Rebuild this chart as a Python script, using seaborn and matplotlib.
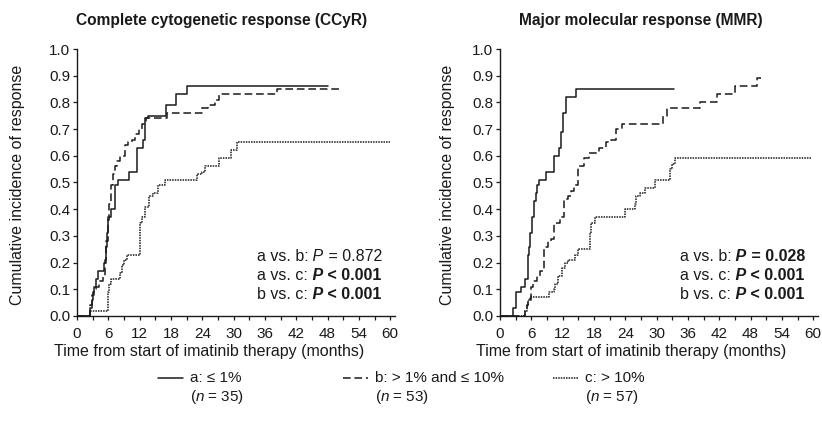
import numpy as np
import pandas as pd
import matplotlib
matplotlib.use('Agg')
import matplotlib.pyplot as plt
from matplotlib.lines import Line2D
from matplotlib.ticker import MultipleLocator
import seaborn as sns

# --- values (months, cumulative incidence) ---
# CCyR panel
ccyr_a_t = [0, 2.5, 2.8, 3.0, 3.3, 3.6, 4.0, 5.2, 5.5, 5.8, 6.0, 6.6, 7.3, 7.9, 10.0, 11.4, 12.6, 13.1, 13.6, 17.0, 19.0, 21.0, 48.0]
ccyr_a_v = [0, 0.03, 0.06, 0.09, 0.11, 0.14, 0.17, 0.20, 0.26, 0.31, 0.37, 0.40, 0.49, 0.51, 0.54, 0.63, 0.66, 0.74, 0.75, 0.79, 0.83, 0.86, 0.86]

ccyr_b_t = [0, 2.5, 2.8, 3.2, 3.6, 4.2, 5.0, 5.3, 5.6, 5.9, 6.2, 6.5, 6.8, 7.2, 7.6, 8.2, 9.2, 9.8, 10.5, 11.1, 11.8, 12.4, 13.2, 17.2, 24.0, 25.0, 26.5, 27.2, 38.3, 50.7]
ccyr_b_v = [0, 0.04, 0.08, 0.10, 0.11, 0.13, 0.15, 0.21, 0.28, 0.36, 0.42, 0.49, 0.53, 0.56, 0.58, 0.60, 0.64, 0.65, 0.66, 0.68, 0.70, 0.72, 0.74, 0.76, 0.78, 0.79, 0.81, 0.83, 0.85, 0.85]

ccyr_c_t = [0, 2.5, 5.9, 6.2, 6.6, 8.2, 8.6, 9.0, 9.6, 12.0, 12.5, 13.1, 13.8, 14.6, 15.5, 16.8, 23.0, 24.0, 24.6, 27.2, 29.4, 30.6, 60.0]
ccyr_c_v = [0, 0.02, 0.09, 0.12, 0.14, 0.16, 0.19, 0.21, 0.23, 0.35, 0.37, 0.41, 0.45, 0.46, 0.49, 0.51, 0.53, 0.54, 0.56, 0.59, 0.62, 0.65, 0.65]

# MMR panel
mmr_a_t = [0, 2.5, 3.0, 4.1, 4.8, 5.4, 5.6, 5.8, 6.1, 6.5, 6.8, 7.0, 7.5, 8.8, 10.3, 11.3, 11.7, 12.0, 12.7, 14.6, 33.3]
mmr_a_v = [0, 0.03, 0.09, 0.11, 0.14, 0.23, 0.26, 0.31, 0.37, 0.43, 0.46, 0.49, 0.51, 0.54, 0.60, 0.63, 0.69, 0.76, 0.82, 0.85, 0.85]

mmr_b_t = [0, 4.8, 5.1, 5.4, 5.9, 6.4, 7.1, 7.6, 8.5, 9.2, 9.8, 10.4, 11.4, 12.3, 13.0, 13.6, 14.2, 15.0, 16.0, 17.1, 19.0, 20.3, 21.2, 22.2, 23.4, 31.3, 32.0, 38.4, 41.6, 45.1, 49.3, 50.0]
mmr_b_v = [0, 0.02, 0.04, 0.06, 0.11, 0.13, 0.15, 0.17, 0.26, 0.28, 0.29, 0.35, 0.37, 0.44, 0.45, 0.47, 0.49, 0.56, 0.59, 0.61, 0.63, 0.65, 0.66, 0.70, 0.72, 0.75, 0.78, 0.80, 0.83, 0.86, 0.89, 0.89]

mmr_c_t = [0, 4.8, 5.1, 5.4, 5.7, 9.4, 10.3, 10.6, 11.2, 11.8, 12.4, 13.0, 14.3, 15.0, 17.2, 17.4, 18.2, 23.9, 25.8, 26.1, 26.9, 27.7, 29.6, 32.5, 33.0, 33.6, 59.8]
mmr_c_v = [0, 0.02, 0.04, 0.06, 0.07, 0.09, 0.10, 0.12, 0.15, 0.18, 0.20, 0.21, 0.23, 0.25, 0.31, 0.35, 0.37, 0.40, 0.42, 0.45, 0.46, 0.48, 0.51, 0.55, 0.57, 0.59, 0.59]

panel_titles = ['Complete cytogenetic response (CCyR)', 'Major molecular response (MMR)']
group_labels = ['a: \u2264 1%', 'b: > 1% and \u2264 10%', 'c: > 10%']
group_n = [35, 53, 57]
x_ticks = list(range(0, 61, 6))

# p-value lines: (comparison, P sign/value, bold?)
ccyr_pvals = [('a vs. b:', '= 0.872', False), ('a vs. c:', '< 0.001', True), ('b vs. c:', '< 0.001', True)]
mmr_pvals = [('a vs. b:', '= 0.028', True), ('a vs. c:', '< 0.001', True), ('b vs. c:', '< 0.001', True)]

INK = '#1a1a1a'
LINESTYLES = ['-', (0, (5, 2.5)), (0, (1, 0.7))]
TXT = 11.5

sns.set_style('ticks')
plt.rcParams['font.family'] = ['Liberation Sans', 'DejaVu Sans']
plt.rcParams['mathtext.fontset'] = 'custom'
plt.rcParams['mathtext.rm'] = 'Liberation Sans'
plt.rcParams['mathtext.it'] = 'Liberation Sans:italic'
plt.rcParams['text.color'] = INK


def put_pvalue(ax, x, y, label, value, bold, size=TXT):
	# chain pieces from right to left so the line ends at x
	w = 'bold' if bold else 'normal'
	last = ax.text(x, y, ' ' + value, transform=ax.transAxes, ha='right', va='center',
		fontsize=size, fontweight=w, color=INK)
	mid = ax.annotate(' P', xy=(0, 0.5), xycoords=last, ha='right', va='center',
		fontsize=size, fontweight=w, fontstyle='italic', color=INK)
	ax.annotate(label, xy=(0, 0.5), xycoords=mid, ha='right', va='center',
		fontsize=size, color=INK)


def draw_panel(ax, series, pvals):
	for (t, v), ls in zip(series, LINESTYLES):
		df = pd.DataFrame({'t': t, 'v': v})
		sns.lineplot(data=df, x='t', y='v', estimator=None, sort=False, drawstyle='steps-post',
			color=INK, linewidth=1.1, linestyle=ls, ax=ax)
	ax.set_xlim(0, 61)
	ax.set_ylim(0, 1.0)
	ax.set_xticks(x_ticks)
	ax.xaxis.set_minor_locator(MultipleLocator(3))
	ax.yaxis.set_major_locator(MultipleLocator(0.1))
	ax.yaxis.set_major_formatter(matplotlib.ticker.FormatStrFormatter('%.1f'))
	ax.set_xlabel('')
	ax.set_ylabel('')
	sns.despine(ax=ax)
	for s in ['left', 'bottom']:
		ax.spines[s].set_linewidth(1.0)
		ax.spines[s].set_color(INK)
	ax.tick_params(axis='both', which='both', direction='out', length=3, width=0.9, color=INK,
		labelsize=11, labelcolor=INK)
	ax.tick_params(axis='x', pad=5)
	ax.tick_params(axis='y', pad=2)
	for i, (lab, val, bold) in enumerate(pvals):
		put_pvalue(ax, 0.957, 0.221 - i * 0.071, lab, val, bold)


fig = plt.figure(figsize=(8.22, 4.28), dpi=100)
ax1 = fig.add_axes([0.0937, 0.2617, 0.3874, 0.6238])
ax2 = fig.add_axes([0.6083, 0.2617, 0.3874, 0.6238])

draw_panel(ax1, [(ccyr_a_t, ccyr_a_v), (ccyr_b_t, ccyr_b_v), (ccyr_c_t, ccyr_c_v)], ccyr_pvals)
draw_panel(ax2, [(mmr_a_t, mmr_a_v), (mmr_b_t, mmr_b_v), (mmr_c_t, mmr_c_v)], mmr_pvals)

# titles and axis labels
for cx, title in zip([0.270, 0.779], panel_titles):
	fig.text(cx, 0.953, title, ha='center', va='center', fontsize=11.2, fontweight='bold')
for lx in [0.0207, 0.545]:
	fig.text(lx, 0.568, 'Cumulative incidence of response', rotation=90, ha='center', va='center', fontsize=TXT)
for cx in [0.254, 0.768]:
	fig.text(cx, 0.178, 'Time from start of imatinib therapy (months)', ha='center', va='center', fontsize=TXT)

# legend below both panels
leg_x = [158, 343, 553]
for x0, ls, lab, n in zip(leg_x, LINESTYLES, group_labels, group_n):
	y1 = 1 - 378 / 428
	y2 = 1 - 397 / 428
	fig.add_artist(Line2D([x0 / 822, (x0 + 25) / 822], [y1, y1], transform=fig.transFigure,
		color=INK, linewidth=1.1, linestyle=ls))
	fig.text((x0 + 32) / 822, y1, lab, ha='left', va='center', fontsize=11)
	fig.text((x0 + 32) / 822, y2, '($\\it{n}$ = %d)' % n, ha='left', va='center', fontsize=11)

fig.savefig('out.png', dpi=100)
